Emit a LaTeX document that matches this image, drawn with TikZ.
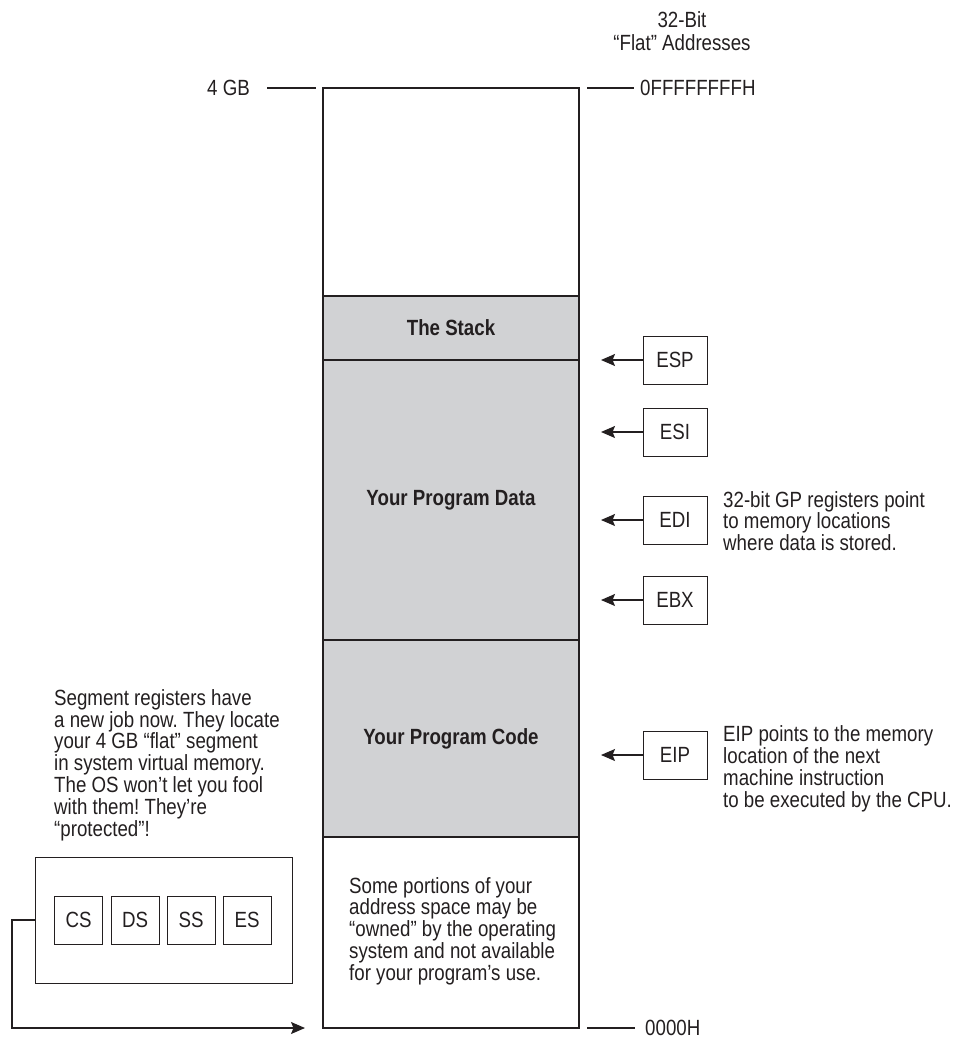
\documentclass[tikz,border=0pt]{standalone}
\usepackage{fontspec}
\setmainfont{Liberation Sans}[FakeStretch=0.85]
\usetikzlibrary{arrows.meta}
\definecolor{segfill}{HTML}{D1D2D4}
\definecolor{ink}{HTML}{231F20}
\frenchspacing
\begin{document}
\begin{tikzpicture}[x=1pt,y=-1pt,
  every node/.style={font=\fontsize{22}{21.8}\selectfont, text=ink},
  region/.style={draw=ink, line width=1.2pt, minimum width=256pt, inner sep=0pt, outer sep=0pt},
  shaded/.style={region, fill=segfill},
  lbl/.style={font=\fontsize{22}{21.8}\selectfont\bfseries},
  regbox/.style={draw=ink, line width=1pt, minimum width=64pt, minimum height=48pt, inner sep=0pt, outer sep=0pt},
  segbox/.style={draw=ink, line width=1pt, minimum width=48pt, minimum height=48pt, inner sep=0pt, outer sep=0pt},
  note/.style={align=left, inner sep=0pt},
  arr/.style={draw=ink, line width=1.2pt, -{Stealth[length=14pt,width=12pt,inset=2.5pt]}},
  tick/.style={draw=ink, line width=1.1pt}
]
\useasboundingbox (0,0) rectangle (952,1040);

% memory column
\node[region, fill=white, minimum height=208pt] (free) at (451,192) {};
\node[shaded, minimum height=64pt] (stack) at (451,328) {};
\node[shaded, minimum height=280pt] (data) at (451,500) {};
\node[shaded, minimum height=197pt] (code) at (451,738.5) {};
\node[region, fill=white, minimum height=191pt] (os) at (451,932.5) {};
\node[lbl] at (stack.center) {The Stack};
\node[lbl] at (data.center) {Your Program Data};
\node[lbl] at (code.center) {Your Program Code};
\node[note, anchor=west] (osnote) at (349,931) {Some portions of your\\address space may be\\“owned” by the operating\\system and not available\\for your program’s use.};

% headings and address marks
\node (h1) at (682,20) {32-Bit};
\node (h2) at (682,43) {“Flat” Addresses};
\node[anchor=east, inner sep=0pt] (gb) at (250,88) {4 GB};
\node[anchor=west, inner sep=0pt] (ffff) at (640,88) {0FFFFFFFFH};
\node[anchor=west, inner sep=0pt] (zero) at (645,1028) {0000H};
\draw[tick] ([xshift=17pt]gb.east) -- ([xshift=-7pt]free.north west);
\draw[tick] ([xshift=8pt]free.north east) -- ([xshift=-6pt]ffff.west);
\draw[tick] ([xshift=8pt]os.south east) -- ([xshift=-10pt]zero.west);

% GP registers
\node[regbox] (esp) at (675,360) {ESP};
\node[regbox] (esi) at (675,432) {ESI};
\node[regbox] (edi) at (675,520) {EDI};
\node[regbox] (ebx) at (675,600) {EBX};
\node[regbox] (eip) at (675,755) {EIP};
\coordinate (tesp) at (601,360);
\coordinate (tesi) at (601,432);
\coordinate (tedi) at (601,520);
\coordinate (tebx) at (601,600);
\coordinate (teip) at (601,755);
\draw[arr] (esp.west) -- (tesp);
\draw[arr] (esi.west) -- (tesi);
\draw[arr] (edi.west) -- (tedi);
\draw[arr] (ebx.west) -- (tebx);
\draw[arr] (eip.west) -- (teip);
\node[note, anchor=west] (gpnote) at (723,521) {32-bit GP registers point\\to memory locations\\where data is stored.};
\node[note, anchor=west] (eipnote) at (723,769) {EIP points to the memory\\location of the next\\machine instruction\\to be executed by the CPU.};

% segment registers
\node[note, anchor=west] (segnote) at (54,765) {Segment registers have\\a new job now. They locate\\your 4 GB “flat” segment\\in system virtual memory.\\The OS won’t let you fool\\with them! They’re\\“protected”!};
\node[draw=ink, line width=1pt, minimum width=257pt, minimum height=126pt, inner sep=0pt, outer sep=0pt] (seg) at (163.5,920) {};
\node[segbox] (cs) at (78.5,920) {CS};
\node[segbox] (ds) at (135,920) {DS};
\node[segbox] (ss) at (191,920) {SS};
\node[segbox] (es) at (247,920) {ES};
\coordinate (bend) at (12,1028);
\coordinate (tseg) at (305,1028);
\draw[arr] (seg.west) -| (bend) -- (tseg);
\end{tikzpicture}
\end{document}
